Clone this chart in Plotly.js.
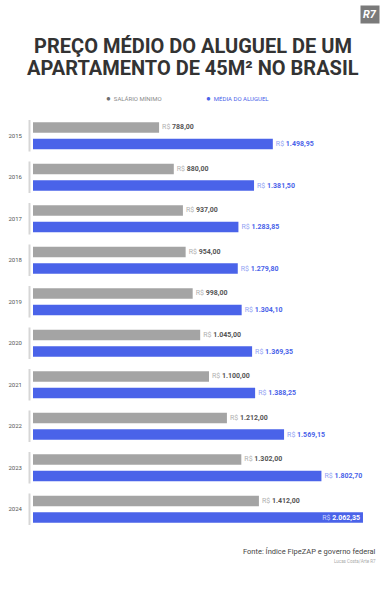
<!DOCTYPE html>
<html>
<head>
<meta charset="utf-8">
<script src="https://cdn.plot.ly/plotly-3.0.1.min.js"></script>
<style>html,body{margin:0;padding:0;background:#fff;}#chart{width:386px;height:600px;}</style>
</head>
<body>
<div id="chart"></div>
<script>
const years = ["2015","2016","2017","2018","2019","2020","2021","2022","2023","2024"];
const salarioMinimo = [788.00, 880.00, 937.00, 954.00, 998.00, 1045.00, 1100.00, 1212.00, 1302.00, 1412.00];
const mediaAluguel = [1498.95, 1381.50, 1283.85, 1279.80, 1304.10, 1369.35, 1388.25, 1569.15, 1802.70, 2062.35];
const seriesNames = ["SALÁRIO MÍNIMO", "MÉDIA DO ALUGUEL"];
const titleLines = ["PREÇO MÉDIO DO ALUGUEL DE UM", "APARTAMENTO DE 45M² NO BRASIL"];
const sourceText = "Fonte: Índice FipeZAP e governo federal";
const creditText = "Lucas Costa/Arte R7";

const W = 386, H = 600;
const M = {l: 33, r: 9, t: 115, b: 70};
const PW = W - M.l - M.r, PH = H - M.t - M.b;
const px = x => (x - M.l) / PW;
const py = y => (H - M.b - y) / PH;

function brl(v) {
  const parts = v.toFixed(2).split(".");
  const int = parts[0].replace(/\B(?=(\d{3})+(?!\d))/g, ".");
  return int + "," + parts[1];
}
const GRAY = "#a4a4a4", BLUE = "#4a63e9";
const maxVal = Math.max(...mediaAluguel);

const salText = salarioMinimo.map(v => "<span style='color:#b0b0b0'>R$</span> <b>" + brl(v) + "</b>");
const alText = mediaAluguel.map(v => v === maxVal
  ? "<span style='color:#c9d1fa'>R$</span> <b>" + brl(v) + "</b>"
  : "<span style='color:#93a3f3'>R$</span> <b>" + brl(v) + "</b>");
const alPos = mediaAluguel.map(v => v === maxVal ? "inside" : "outside");

const traces = [
  {type: "bar", orientation: "h", name: seriesNames[0], y: years, x: salarioMinimo,
   marker: {color: GRAY}, text: salText, textposition: "outside", texttemplate: "%{text}",
   textfont: {family: "Roboto", size: 7, color: "#555"}, cliponaxis: false, hoverinfo: "skip"},
  {type: "bar", orientation: "h", name: seriesNames[1], y: years, x: mediaAluguel,
   marker: {color: BLUE}, text: alText, textposition: alPos, texttemplate: "%{text}",
   insidetextanchor: "end", constraintext: "none",
   outsidetextfont: {family: "Roboto", size: 7, color: BLUE},
   insidetextfont: {family: "Roboto", size: 7, color: "#ffffff"},
   textfont: {family: "Roboto", size: 7, color: BLUE}, cliponaxis: false, hoverinfo: "skip"}
];

const shapes = years.map((y, i) => ({
  type: "line", xref: "paper", yref: "y", x0: px(29.5), x1: px(29.5), y0: i - 0.38, y1: i + 0.38,
  line: {color: "#d6d6d6", width: 2}
}));

const annotations = [
  {xref: "paper", yref: "paper", x: px(193), y: py(68), xanchor: "center", yanchor: "middle",
   text: "<b>" + titleLines[1] + "</b>", showarrow: false,
   font: {family: "Roboto", size: 20, color: "#333"}},
  {xref: "paper", yref: "paper", x: px(104), y: py(98), xanchor: "left", yanchor: "middle",
   text: "<span style='color:#6e6e6e;font-size:8px'>●</span>  " + seriesNames[0], showarrow: false,
   font: {family: "Roboto", size: 6, color: "#8a8a8a"}},
  {xref: "paper", yref: "paper", x: px(204), y: py(98), xanchor: "left", yanchor: "middle",
   text: "<span style='color:" + BLUE + ";font-size:8px'>●</span>  " + seriesNames[1], showarrow: false,
   font: {family: "Roboto", size: 6, color: BLUE}},
  {xref: "paper", yref: "paper", x: px(378), y: py(551), xanchor: "right", yanchor: "middle",
   text: sourceText, showarrow: false, font: {family: "Roboto", size: 7.5, color: "#444"}},
  {xref: "paper", yref: "paper", x: px(378), y: py(561), xanchor: "right", yanchor: "middle",
   text: creditText, showarrow: false, font: {family: "Roboto", size: 4.5, color: "#aaa"}},
  {xref: "paper", yref: "paper", x: px(370), y: py(14.5), xanchor: "center", yanchor: "middle",
   text: "<b>R7</b>", showarrow: false, bgcolor: "#7a7a7a", borderpad: 2,
   font: {family: "Roboto", size: 11, color: "#fff", style: "italic"}}
];

const layout = {
  width: W, height: H, margin: M, paper_bgcolor: "#fff", plot_bgcolor: "#fff",
  title: {text: "<b>" + titleLines[0] + "</b>", xref: "paper", x: px(193), xanchor: "center",
          yref: "container", y: 1 - 46 / H, yanchor: "middle",
          font: {family: "Roboto", size: 20, color: "#333"}},
  showlegend: false,
  barmode: "group", bargap: 0.2, bargroupgap: 0.36,
  xaxis: {range: [0, PW / 0.16], visible: false, fixedrange: true},
  yaxis: {type: "category", autorange: "reversed", showgrid: false, zeroline: false, showline: false,
          ticks: "", ticklabelstandoff: 10, tickfont: {family: "Roboto", size: 6, color: "#555"}},
  shapes: shapes, annotations: annotations
};

Plotly.newPlot("chart", traces, layout, {displayModeBar: false, staticPlot: true});
</script>
</body>
</html>
